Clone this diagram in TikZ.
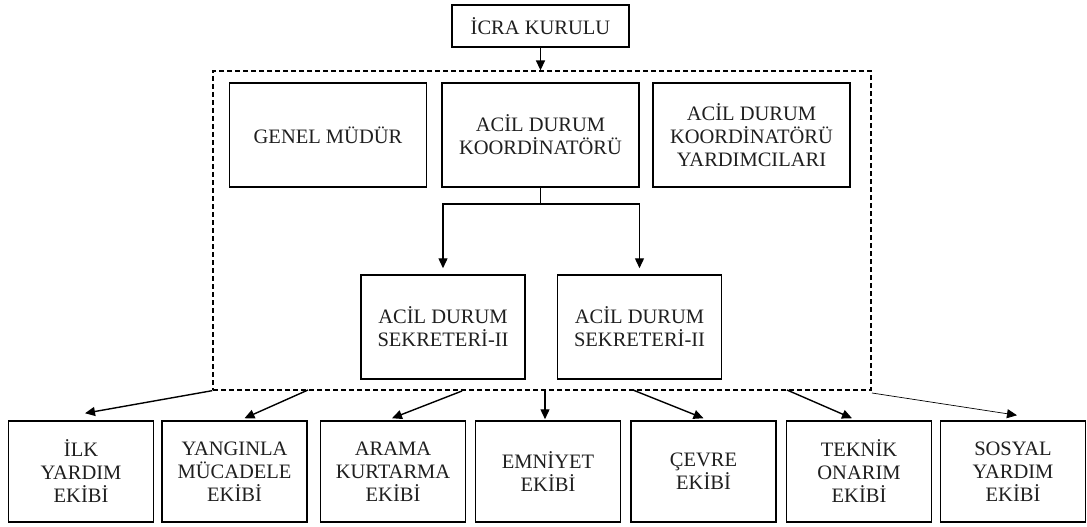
\documentclass[tikz,border=0pt]{standalone}
\usepackage{fontspec}
\setmainfont{Liberation Serif}
\usetikzlibrary{arrows.meta,calc}
\tikzset{
  unit/.style={draw, line width=1.5pt, fill=white, align=center, inner sep=0pt,
    font=\fontsize{20.5}{23}\selectfont, text=black!88},
  topbox/.style={unit, minimum width=177pt, minimum height=42pt},
  mgmt/.style={unit, minimum width=197pt, minimum height=104pt},
  secbox/.style={unit, minimum width=164pt, minimum height=104pt},
  team/.style={unit, minimum width=145pt, minimum height=101pt},
  groupbox/.style={draw, line width=1.3pt, dash pattern=on 5pt off 3pt, inner sep=0pt,
    minimum width=658pt, minimum height=319pt},
  link/.style={line width=1.4pt},
  arr/.style={line width=1.4pt, -{Triangle[length=10pt,width=9pt]}},
  thinarr/.style={line width=0.7pt, -{Triangle[length=10pt,width=9pt]}}
}
\begin{document}
\begin{tikzpicture}[x=1pt,y=-1pt]
\useasboundingbox (0,0) rectangle (1087,527);

% executive board
\node[topbox] (icra) at (540.5,26) {İCRA KURULU};

% emergency management group
\node[groupbox] (grp) at (542,230.5) {};
\node[mgmt] (gm)    at (328,135)   {GENEL MÜDÜR};
\node[mgmt] (coord) at (540.5,135) {ACİL DURUM\\KOORDİNATÖRÜ};
\node[mgmt] (yard)  at (751.5,135) {ACİL DURUM\\KOORDİNATÖRÜ\\YARDIMCILARI};
\node[secbox] (sec1) at (443,327)   {ACİL DURUM\\SEKRETERİ-II};
\node[secbox] (sec2) at (639.5,327) {ACİL DURUM\\SEKRETERİ-II};

% response teams
\node[team] (t1) at (81,471.5)    {İLK\\YARDIM\\EKİBİ};
\node[team] (t2) at (234.5,471.5) {YANGINLA\\MÜCADELE\\EKİBİ};
\node[team] (t3) at (393,471.5)   {ARAMA\\KURTARMA\\EKİBİ};
\node[team] (t4) at (548,471.5)   {EMNİYET\\EKİBİ};
\node[team] (t5) at (703.5,471.5) {ÇEVRE\\EKİBİ};
\node[team] (t6) at (859,471.5)   {TEKNİK\\ONARIM\\EKİBİ};
\node[team] (t7) at (1013,471.5)  {SOSYAL\\YARDIM\\EKİBİ};

% board to group
\draw[arr] (icra.south) -- (icra.south |- grp.north);

% coordinator to secretaries
\coordinate (j) at (540.5,204);
\draw[link] (coord.south) -- (j);
\draw[arr] (j) -| ([yshift=6pt]sec1.north);
\draw[arr] (j) -| ([yshift=6pt]sec2.north);

% group to teams
\coordinate (s1) at (grp.south west);
\coordinate (s2) at (308,390);
\coordinate (s3) at (462,391);
\coordinate (s4) at (545,390);
\coordinate (s5) at (633,390);
\coordinate (s6) at (787,390);
\coordinate (s7) at (872,393);
\draw[arr] (s1) -- ([xshift=4pt,yshift=7pt]t1.north);
\draw[arr] (s2) -- ([xshift=10pt,yshift=2pt]t2.north);
\draw[arr] (s3) -- ([xshift=-1pt,yshift=2pt]t3.north);
\draw[arr] (s4) -- ([xshift=-3pt,yshift=1pt]t4.north);
\draw[arr] (s5) -- ([xshift=0pt,yshift=2pt]t5.north);
\draw[arr] (s6) -- ([xshift=-7pt,yshift=2pt]t6.north);
\draw[thinarr] (s7) -- ([xshift=4pt,yshift=5pt]t7.north);
\end{tikzpicture}
\end{document}
